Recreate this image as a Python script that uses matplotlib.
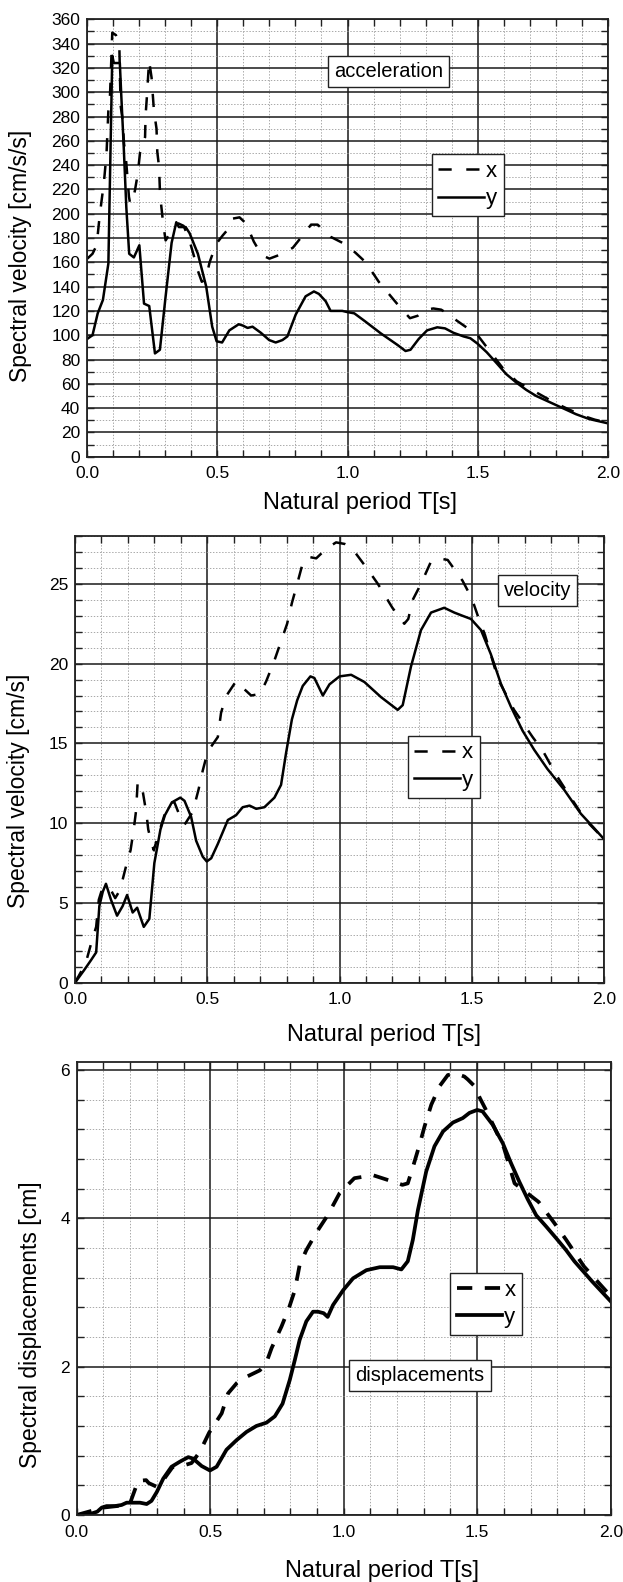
import matplotlib
matplotlib.use('Agg')
import matplotlib.pyplot as plt
from matplotlib.ticker import MultipleLocator, FormatStrFormatter

plt.rcParams['font.family'] = ['Liberation Sans', 'DejaVu Sans']
plt.rcParams['lines.scale_dashes'] = False

# ---------------- data ----------------
# Acceleration spectrum
T_acc_y = [0, 0.02, 0.04, 0.06, 0.081, 0.096, 0.102, 0.125, 0.13, 0.14, 0.15, 0.161, 0.179, 0.200,
           0.218, 0.238, 0.260, 0.279, 0.30, 0.324, 0.342, 0.352, 0.378, 0.393, 0.425, 0.457, 0.48,
           0.497, 0.518, 0.546, 0.582, 0.597, 0.616, 0.635, 0.667, 0.699, 0.724, 0.75, 0.769, 0.801,
           0.839, 0.871, 0.89, 0.916, 0.935, 0.98, 1.0, 1.026, 1.064, 1.128, 1.192, 1.223, 1.242,
           1.274, 1.306, 1.345, 1.375, 1.407, 1.446, 1.472, 1.5, 1.535, 1.573, 1.61, 1.649, 1.687,
           1.725, 1.776, 1.827, 1.878, 1.929, 2.0]
acc_y = [97, 100, 118, 129, 159, 330, 324, 324, 300, 255, 205, 167, 164, 174,
         126, 124, 85, 88, 130, 176, 193, 189, 189, 184, 167, 140, 107,
         95, 94, 104, 109, 108, 106, 107, 102, 96, 94, 96, 99, 117,
         132, 136, 134, 128, 120, 120, 119, 118, 112, 101.5, 92, 87, 88,
         97, 104, 106.5, 105.6, 102, 99, 97.5, 93, 86, 77, 68, 61, 55,
         50, 45, 40, 35, 31, 27.5]
T_acc_x = [0, 0.02, 0.036, 0.045, 0.0515, 0.064, 0.074, 0.081, 0.087, 0.096, 0.11, 0.123, 0.128,
           0.136, 0.141, 0.149, 0.155, 0.16, 0.165, 0.175, 0.183, 0.194, 0.2025, 0.222, 0.224, 0.228,
           0.2375, 0.247, 0.256, 0.266, 0.269, 0.276, 0.279, 0.284, 0.292, 0.301, 0.33, 0.35, 0.37,
           0.39, 0.41, 0.42, 0.44, 0.455, 0.47, 0.495, 0.52, 0.54, 0.56, 0.585, 0.61, 0.64, 0.67,
           0.70, 0.75, 0.79, 0.82, 0.86, 0.885, 0.935, 0.99, 1.03, 1.07, 1.12, 1.19, 1.24, 1.27,
           1.30, 1.33, 1.36, 1.39, 1.42, 1.46, 1.5, 1.55, 1.6, 1.65, 1.7, 1.75, 1.8, 1.85, 1.9,
           1.95, 2.0]
acc_x = [163, 167, 174, 193, 205, 226, 250, 285, 296, 349, 347, 339, 289,
         277, 258, 244, 228, 214, 208, 212, 219, 233, 250, 263, 281, 293,
         326, 312, 285, 270, 251, 238, 219, 207, 191, 178, 188, 192, 190,
         180, 165, 156, 144, 146, 160, 175, 182, 187, 196, 197, 192, 177, 166,
         163, 167, 172, 180, 191, 191, 181, 175, 168, 160, 144, 126, 114, 116,
         121, 122, 121, 117, 112, 106, 100, 86, 72, 62, 56, 50, 44, 39, 34,
         30.5, 28]

# Velocity spectrum
T_vel_y = [0, 0.035, 0.06, 0.08, 0.092, 0.105, 0.117, 0.136, 0.159, 0.18, 0.197, 0.218, 0.235,
           0.26, 0.281, 0.30, 0.323, 0.34, 0.366, 0.398, 0.414, 0.439, 0.458, 0.483, 0.498, 0.515,
           0.54, 0.578, 0.609, 0.634, 0.66, 0.685, 0.716, 0.754, 0.779, 0.798, 0.82, 0.84, 0.861,
           0.89, 0.905, 0.937, 0.962, 1.0, 1.044, 1.094, 1.157, 1.22, 1.239, 1.27, 1.308, 1.346,
           1.396, 1.434, 1.465, 1.497, 1.535, 1.572, 1.61, 1.648, 1.692, 1.736, 1.786, 1.849,
           1.912, 1.962, 2.0]
vel_y = [0, 0.8, 1.4, 1.9, 4.8, 5.7, 6.2, 5.2, 4.2, 4.8, 5.5, 4.4, 4.7,
         3.5, 4.0, 7.5, 9.6, 10.5, 11.3, 11.6, 11.4, 10.4, 8.9, 7.9, 7.6, 7.8,
         8.7, 10.2, 10.5, 11.0, 11.1, 10.9, 11.0, 11.6, 12.4, 14.4, 16.5, 17.7, 18.6,
         19.2, 19.1, 18.0, 18.7, 19.2, 19.3, 18.85, 17.9, 17.1, 17.4, 19.8, 22.1, 23.2,
         23.5, 23.2, 23.0, 22.8, 22.1, 20.6, 18.75, 17.3, 15.8, 14.6, 13.4, 12.1,
         10.6, 9.7, 9.0]
T_vel_x = [0, 0.04, 0.06, 0.08, 0.09, 0.105, 0.12, 0.136, 0.152, 0.17, 0.193, 0.21, 0.222, 0.231,
           0.237, 0.256, 0.27, 0.277, 0.29, 0.298, 0.319, 0.34, 0.36, 0.376, 0.395, 0.414, 0.445,
           0.467, 0.483, 0.502, 0.54, 0.552, 0.569, 0.609, 0.64, 0.666, 0.70, 0.723, 0.754, 0.779,
           0.802, 0.82, 0.84, 0.861, 0.88, 0.912, 0.95, 0.987, 1.02, 1.044, 1.107, 1.145, 1.2,
           1.245, 1.26, 1.277, 1.308, 1.346, 1.375, 1.409, 1.465, 1.5, 1.527, 1.55, 1.6, 1.66,
           1.73, 1.77, 1.82, 1.855, 1.93, 2.0]
vel_x = [0, 1.2, 2.4, 3.5, 5.2, 6.0, 5.9, 5.8, 5.3, 5.8, 7.3, 8.3, 9.6, 10.8,
         12.6, 12.0, 10.6, 9.6, 8.7, 8.3, 9.5, 10.6, 11.3, 11.3, 10.5, 9.9, 10.7,
         12.1, 13.3, 14.5, 15.4, 16.9, 17.9, 18.9, 18.4, 18.0, 18.1, 18.9, 20.2, 21.4,
         22.5, 23.8, 25.0, 26.3, 26.7, 26.6, 27.2, 27.6, 27.5, 27.3, 25.9, 25.0, 23.5,
         22.5, 22.8, 24.0, 25.0, 26.4, 26.6, 26.5, 25.2, 24.1, 22.8, 21.8, 19.0, 17.1,
         15.4, 14.5, 13.0, 12.1, 10.2, 9.0]

# Displacement spectrum
T_dis_y = [0, 0.05, 0.077, 0.094, 0.112, 0.143, 0.168, 0.187, 0.206, 0.237, 0.262, 0.28, 0.3,
           0.324, 0.355, 0.387, 0.418, 0.436, 0.468, 0.499, 0.524, 0.561, 0.599, 0.636, 0.673,
           0.711, 0.742, 0.771, 0.798, 0.817, 0.835, 0.86, 0.885, 0.904, 0.925, 0.94, 0.96, 0.998,
           1.035, 1.085, 1.135, 1.185, 1.216, 1.24, 1.259, 1.278, 1.309, 1.34, 1.372, 1.409,
           1.446, 1.471, 1.5, 1.52, 1.558, 1.596, 1.627, 1.658, 1.69, 1.721, 1.758, 1.796, 1.833,
           1.864, 1.93, 2.0]
dis_y = [0, 0.013, 0.045, 0.10, 0.12, 0.12, 0.135, 0.166, 0.166, 0.166, 0.148, 0.19, 0.31,
         0.49, 0.65, 0.72, 0.78, 0.76, 0.66, 0.60, 0.65, 0.88, 1.01, 1.12, 1.2,
         1.245, 1.33, 1.5, 1.82, 2.09, 2.36, 2.61, 2.74, 2.74, 2.72, 2.67, 2.83, 3.03,
         3.19, 3.30, 3.34, 3.34, 3.31, 3.42, 3.71, 4.11, 4.63, 4.97, 5.17, 5.29,
         5.35, 5.42, 5.46, 5.44, 5.26, 5.01, 4.74, 4.49, 4.25, 4.04, 3.89, 3.73, 3.57,
         3.42, 3.15, 2.88]
T_dis_x = [0, 0.1, 0.15, 0.2, 0.23, 0.26, 0.27, 0.30, 0.33, 0.36, 0.393, 0.43, 0.461, 0.496,
           0.543, 0.567, 0.60, 0.623, 0.686, 0.71, 0.73, 0.767, 0.795, 0.817, 0.835, 0.86, 0.9,
           0.94, 0.985, 1.04, 1.11, 1.17, 1.22, 1.24, 1.26, 1.284, 1.303, 1.328, 1.359, 1.39,
           1.42, 1.452, 1.465, 1.49, 1.51, 1.53, 1.545, 1.6, 1.64, 1.73, 1.79, 1.833, 1.9, 2.0]
dis_x = [0, 0.1, 0.12, 0.16, 0.46, 0.47, 0.43, 0.38, 0.5, 0.65, 0.66, 0.7, 0.85, 1.11,
         1.37, 1.64, 1.78, 1.84, 1.95, 2.05, 2.25, 2.54, 2.79, 3.03, 3.37, 3.57, 3.82,
         4.04, 4.34, 4.54, 4.58, 4.51, 4.45, 4.47, 4.70, 4.99, 5.24, 5.53, 5.78, 5.93,
         5.95, 5.91, 5.87, 5.78, 5.62, 5.48, 5.37, 4.95, 4.47, 4.22, 3.93, 3.71, 3.35, 2.95]

x_label = 'Natural period T[s]'
y_labels = ['Spectral velocity [cm/s/s]', 'Spectral velocity [cm/s]', 'Spectral displacements [cm]']
box_texts = ['acceleration', 'velocity', 'displacements']
series_names = ['x', 'y']

# ---------------- figure ----------------
W, H = 623, 1582
fig = plt.figure(figsize=(W / 100, H / 100), dpi=100)


def px_axes(l, r, t, b):
    return fig.add_axes([l / W, 1 - b / H, (r - l) / W, (b - t) / H])


def setup(ax, ymax, ymaj, ymin):
    ax.set_xlim(0, 2.0)
    ax.set_ylim(0, ymax)
    ax.xaxis.set_major_locator(MultipleLocator(0.5))
    ax.xaxis.set_minor_locator(MultipleLocator(0.1))
    ax.yaxis.set_major_locator(MultipleLocator(ymaj))
    ax.yaxis.set_minor_locator(MultipleLocator(ymin))
    ax.xaxis.set_major_formatter(FormatStrFormatter('%.1f'))
    ax.set_axisbelow(True)
    ax.grid(which='major', color='#1a1a1a', lw=1.1, ls='-')
    ax.grid(which='minor', color='#9a9a9a', lw=0.6, ls=(0, (1, 1.2)))
    ax.tick_params(which='both', direction='in', top=True, right=True,
                   labelsize=12.5, length=5, width=1, color='#222222')
    ax.tick_params(axis='x', which='both', pad=7)
    ax.tick_params(axis='y', which='both', pad=5)
    for s in ax.spines.values():
        s.set_linewidth(1.3)
        s.set_color('#222222')


panels = [
    dict(rect=(87.3, 607.7, 19.3, 456.7), Tx=T_acc_x, vx=acc_x, Ty=T_acc_y, vy=acc_y,
         ylim=(360, 20, 10), lw=1.8, dash=(0, (9.5, 10.5)), leg=(0.662, 0.692), box=(0.579, 0.881),
         ylc=(-0.106, 0.459), xlc=(0.524, -0.081)),
    dict(rect=(75, 604, 536, 982.7), Tx=T_vel_x, vx=vel_x, Ty=T_vel_y, vy=vel_y,
         ylim=(28, 5, 1), lw=1.8, dash=(0, (9.5, 10.5)), leg=(0.629, 0.553), box=(0.874, 0.878),
         ylc=(-0.085, 0.429), xlc=(0.585, -0.092)),
    dict(rect=(76.7, 610.7, 1061.7, 1515), Tx=T_dis_x, vx=dis_x, Ty=T_dis_y, vy=dis_y,
         ylim=(6.11, 2, 0.4), lw=2.7, dash=(0, (11, 9)), leg=(0.699, 0.534), box=(0.643, 0.308),
         ylc=(-0.065, 0.419), xlc=(0.572, -0.10)),
]

for i, p in enumerate(panels):
    ax = px_axes(*p['rect'])
    setup(ax, *p['ylim'])
    ax.plot(p['Tx'], p['vx'], color='black', lw=p['lw'], ls=p['dash'], label=series_names[0])
    ax.plot(p['Ty'], p['vy'], color='black', lw=p['lw'], ls='-', label=series_names[1])
    leg = ax.legend(loc='upper left', bbox_to_anchor=p['leg'], borderaxespad=0,
                    fontsize=16, handlelength=2.05, handletextpad=0.1, borderpad=0.3,
                    labelspacing=0.3, fancybox=False, edgecolor='#222222', framealpha=1)
    leg.get_frame().set_linewidth(1.0)
    ax.text(p['box'][0], p['box'][1], box_texts[i], transform=ax.transAxes,
            ha='center', va='center', fontsize=14.5,
            bbox=dict(boxstyle='square,pad=0.3', fc='white', ec='#222222', lw=1.0))
    ax.set_ylabel(y_labels[i], fontsize=16.5)
    ax.set_xlabel(x_label, fontsize=17)
    ax.yaxis.set_label_coords(*p['ylc'])
    ax.xaxis.set_label_coords(*p['xlc'])

fig.savefig('out.png', dpi=100, facecolor='white')
